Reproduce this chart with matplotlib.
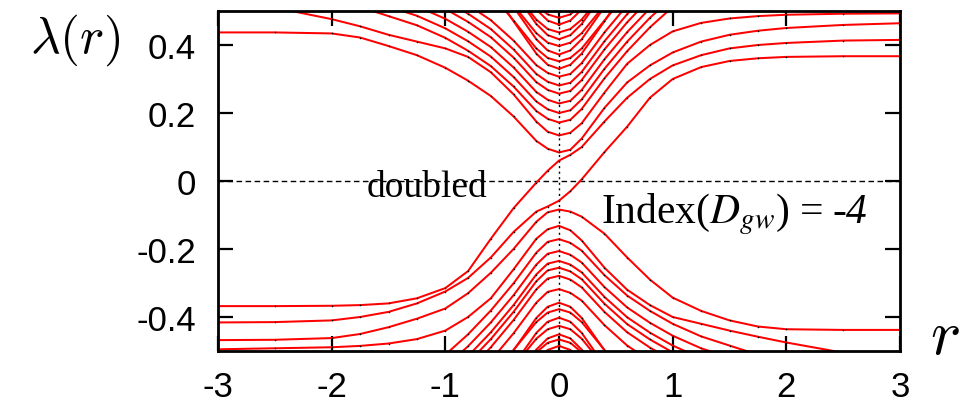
import matplotlib
matplotlib.use("Agg")
import matplotlib.pyplot as plt

# ---------------- data ----------------
r_grid = [-3, -2.5, -2, -1.75, -1.5, -1.25, -1, -0.8, -0.6, -0.4, -0.2, -0.1, 0,
          0.1, 0.2, 0.4, 0.6, 0.8, 1, 1.25, 1.5, 1.75, 2, 2.5, 3]

# the two (doubled) crossing eigenvalue lines
line_a = [-0.368, -0.368, -0.367, -0.365, -0.36, -0.345, -0.315, -0.265, -0.17, -0.08, -0.005, 0.03, 0.06,
          0.077, 0.1, 0.175, 0.245, 0.3, 0.34, 0.37, 0.39, 0.4, 0.406, 0.413, 0.415]
line_b = [-0.416, -0.415, -0.41, -0.4, -0.385, -0.36, -0.325, -0.285, -0.225, -0.15, -0.09, -0.075, -0.058,
          -0.03, 0.005, 0.085, 0.16, 0.245, 0.3, 0.335, 0.353, 0.361, 0.365, 0.367, 0.367]

# upper band
u1 = [0.437, 0.437, 0.434, 0.422, 0.397, 0.37, 0.333, 0.295, 0.25, 0.19, 0.118, 0.095, 0.084,
      0.092, 0.125, 0.215, 0.29, 0.34, 0.378, 0.41, 0.43, 0.442, 0.45, 0.459, 0.464]
u2 = [0.55, 0.51, 0.476, 0.455, 0.43, 0.41, 0.39, 0.365, 0.32, 0.255, 0.175, 0.145, 0.134,
      0.142, 0.17, 0.26, 0.345, 0.4, 0.44, 0.465, 0.478, 0.485, 0.489, 0.492, 0.493]
u3 = [0.572, 0.552, 0.532, 0.512, 0.485, 0.458, 0.421, 0.383, 0.338, 0.278, 0.206, 0.183, 0.172,
      0.18, 0.212, 0.302, 0.382, 0.452, 0.512, 0.572, 0.622, 0.672, 0.722, 0.772, 0.822]
u4 = [0.6, 0.58, 0.56, 0.54, 0.513, 0.486, 0.449, 0.411, 0.366, 0.306, 0.234, 0.211, 0.2,
      0.208, 0.24, 0.33, 0.41, 0.48, 0.54, 0.6, 0.65, 0.7, 0.75, 0.8, 0.85]
u5 = [0.628, 0.608, 0.588, 0.568, 0.541, 0.514, 0.477, 0.439, 0.394, 0.334, 0.262, 0.239, 0.228,
      0.236, 0.268, 0.358, 0.438, 0.508, 0.568, 0.628, 0.678, 0.728, 0.778, 0.828, 0.878]
u6 = [0.657, 0.637, 0.617, 0.597, 0.57, 0.543, 0.506, 0.468, 0.423, 0.363, 0.291, 0.268, 0.257,
      0.265, 0.297, 0.387, 0.467, 0.537, 0.597, 0.657, 0.707, 0.757, 0.807, 0.857, 0.907]
u7 = [0.681, 0.661, 0.641, 0.621, 0.594, 0.567, 0.53, 0.492, 0.447, 0.387, 0.315, 0.292, 0.281,
      0.289, 0.321, 0.411, 0.491, 0.561, 0.621, 0.681, 0.731, 0.781, 0.831, 0.881, 0.931]
u8 = [0.707, 0.687, 0.667, 0.647, 0.62, 0.593, 0.556, 0.518, 0.473, 0.413, 0.341, 0.318, 0.307,
      0.315, 0.347, 0.437, 0.517, 0.587, 0.647, 0.707, 0.757, 0.807, 0.857, 0.907, 0.957]
u9 = [1.31, 1.18, 1.05, 0.98, 0.91, 0.83, 0.74, 0.66, 0.57, 0.47, 0.375, 0.342, 0.33,
      0.342, 0.375, 0.47, 0.57, 0.66, 0.74, 0.83, 0.91, 0.98, 1.05, 1.18, 1.31]
u10 = [1.182, 1.072, 0.962, 0.902, 0.842, 0.777, 0.702, 0.632, 0.552, 0.472, 0.39, 0.362, 0.352,
       0.362, 0.39, 0.472, 0.552, 0.632, 0.702, 0.777, 0.842, 0.902, 0.962, 1.072, 1.182]
u11 = [1.352, 1.222, 1.092, 1.022, 0.952, 0.872, 0.782, 0.702, 0.612, 0.512, 0.417, 0.384, 0.372,
       0.384, 0.417, 0.512, 0.612, 0.702, 0.782, 0.872, 0.952, 1.022, 1.092, 1.222, 1.352]
u12 = [1.227, 1.117, 1.007, 0.947, 0.887, 0.822, 0.747, 0.677, 0.597, 0.517, 0.435, 0.407, 0.397,
       0.407, 0.435, 0.517, 0.597, 0.677, 0.747, 0.822, 0.887, 0.947, 1.007, 1.117, 1.227]
u13 = [1.397, 1.267, 1.137, 1.067, 0.997, 0.917, 0.827, 0.747, 0.657, 0.557, 0.462, 0.429, 0.417,
       0.429, 0.462, 0.557, 0.657, 0.747, 0.827, 0.917, 0.997, 1.067, 1.137, 1.267, 1.397]
u14 = [1.267, 1.157, 1.047, 0.987, 0.927, 0.862, 0.787, 0.717, 0.637, 0.557, 0.475, 0.447, 0.437,
       0.447, 0.475, 0.557, 0.637, 0.717, 0.787, 0.862, 0.927, 0.987, 1.047, 1.157, 1.267]
u15 = [1.44, 1.31, 1.18, 1.11, 1.04, 0.96, 0.87, 0.79, 0.7, 0.6, 0.505, 0.472, 0.46,
       0.472, 0.505, 0.6, 0.7, 0.79, 0.87, 0.96, 1.04, 1.11, 1.18, 1.31, 1.44]
u16 = [1.31, 1.2, 1.09, 1.03, 0.97, 0.905, 0.83, 0.76, 0.68, 0.6, 0.518, 0.49, 0.48,
       0.49, 0.518, 0.6, 0.68, 0.76, 0.83, 0.905, 0.97, 1.03, 1.09, 1.2, 1.31]

# lower band
l1 = [-0.468, -0.467, -0.462, -0.45, -0.43, -0.405, -0.375, -0.33, -0.27, -0.2, -0.12, -0.092, -0.084,
      -0.09, -0.105, -0.155, -0.225, -0.29, -0.343, -0.382, -0.41, -0.428, -0.436, -0.438, -0.438]
l2 = [-0.495, -0.492, -0.489, -0.485, -0.478, -0.465, -0.44, -0.4, -0.345, -0.26, -0.17, -0.142, -0.132,
      -0.145, -0.175, -0.255, -0.32, -0.365, -0.4, -0.42, -0.44, -0.458, -0.475, -0.505, -0.54]
l3 = [-0.821, -0.771, -0.721, -0.671, -0.621, -0.571, -0.511, -0.451, -0.381, -0.301, -0.211, -0.179, -0.171,
      -0.182, -0.205, -0.277, -0.337, -0.382, -0.42, -0.457, -0.484, -0.511, -0.531, -0.551, -0.571]
l4 = [-0.856, -0.806, -0.756, -0.706, -0.656, -0.606, -0.546, -0.486, -0.416, -0.336, -0.246, -0.214, -0.206,
      -0.217, -0.24, -0.312, -0.372, -0.417, -0.455, -0.492, -0.519, -0.546, -0.566, -0.586, -0.606]
l5 = [-0.885, -0.835, -0.785, -0.735, -0.685, -0.635, -0.575, -0.515, -0.445, -0.365, -0.275, -0.243, -0.235,
      -0.246, -0.269, -0.341, -0.401, -0.446, -0.484, -0.521, -0.548, -0.575, -0.595, -0.615, -0.635]
l6 = [-0.905, -0.855, -0.805, -0.755, -0.705, -0.655, -0.595, -0.535, -0.465, -0.385, -0.295, -0.263, -0.255,
      -0.266, -0.289, -0.361, -0.421, -0.466, -0.504, -0.541, -0.568, -0.595, -0.615, -0.635, -0.655]
l7 = [-0.929, -0.879, -0.829, -0.779, -0.729, -0.679, -0.619, -0.559, -0.489, -0.409, -0.319, -0.287, -0.279,
      -0.29, -0.313, -0.385, -0.445, -0.49, -0.528, -0.565, -0.592, -0.619, -0.639, -0.659, -0.679]
l8 = [-0.968, -0.918, -0.868, -0.818, -0.768, -0.718, -0.658, -0.598, -0.528, -0.448, -0.358, -0.326, -0.318,
      -0.329, -0.352, -0.424, -0.484, -0.529, -0.567, -0.604, -0.631, -0.658, -0.678, -0.698, -0.718]
l9 = [-1.338, -1.208, -1.078, -1.008, -0.938, -0.858, -0.768, -0.688, -0.598, -0.498, -0.403, -0.37, -0.358,
      -0.37, -0.403, -0.498, -0.598, -0.688, -0.768, -0.858, -0.938, -1.008, -1.078, -1.208, -1.338]
l10 = [-1.207, -1.097, -0.987, -0.927, -0.867, -0.802, -0.727, -0.657, -0.577, -0.497, -0.415, -0.387, -0.377,
       -0.387, -0.415, -0.497, -0.577, -0.657, -0.727, -0.802, -0.867, -0.927, -0.987, -1.097, -1.207]
l11 = [-1.382, -1.252, -1.122, -1.052, -0.982, -0.902, -0.812, -0.732, -0.642, -0.542, -0.447, -0.414, -0.402,
       -0.414, -0.447, -0.542, -0.642, -0.732, -0.812, -0.902, -0.982, -1.052, -1.122, -1.252, -1.382]
l12 = [-1.256, -1.146, -1.036, -0.976, -0.916, -0.851, -0.776, -0.706, -0.626, -0.546, -0.464, -0.436, -0.426,
       -0.436, -0.464, -0.546, -0.626, -0.706, -0.776, -0.851, -0.916, -0.976, -1.036, -1.146, -1.256]
l13 = [-1.431, -1.301, -1.171, -1.101, -1.031, -0.951, -0.861, -0.781, -0.691, -0.591, -0.496, -0.463, -0.451,
       -0.463, -0.496, -0.591, -0.691, -0.781, -0.861, -0.951, -1.031, -1.101, -1.171, -1.301, -1.431]
l14 = [-1.296, -1.186, -1.076, -1.016, -0.956, -0.891, -0.816, -0.746, -0.666, -0.586, -0.504, -0.476, -0.466,
       -0.476, -0.504, -0.586, -0.666, -0.746, -0.816, -0.891, -0.956, -1.016, -1.076, -1.186, -1.296]
l15 = [-1.465, -1.335, -1.205, -1.135, -1.065, -0.985, -0.895, -0.815, -0.725, -0.625, -0.53, -0.497, -0.485,
       -0.497, -0.53, -0.625, -0.725, -0.815, -0.895, -0.985, -1.065, -1.135, -1.205, -1.335, -1.465]

x_ticks = [-3, -2, -1, 0, 1, 2, 3]
x_tick_labels = ["-3", "-2", "-1", "0", "1", "2", "3"]
y_ticks = [-0.4, -0.2, 0, 0.2, 0.4]
y_tick_labels = ["-0.4", "-0.2", "0", "0.2", "0.4"]

curves = [u1, u2, u3, u4, u5, u6, u7, u8, u9, u10, u11, u12, u13, u14, u15, u16,
          l1, l2, l3, l4, l5, l6, l7, l8, l9, l10, l11, l12, l13, l14, l15,
          line_a, line_b]

# ---------------- figure ----------------
fig = plt.figure(figsize=(9.74, 4.06), dpi=100)
ax = fig.add_axes([218 / 974, 1 - 352 / 406, (900 - 218) / 974, (352 - 12) / 406])

ax.axhline(0, color="black", lw=1.0, ls=(0, (4, 2.5)), zorder=1)
ax.axvline(0, color="black", lw=1.0, ls=(0, (1.5, 2.5)), zorder=1)

for c in curves:
    ax.plot(r_grid, c, color="#ff0000", lw=1.45, marker=".", ms=2.2,
            mfc="black", mec="black", mew=0, zorder=2)

ax.set_xlim(-3, 3)
ax.set_ylim(-0.5, 0.5)
ax.set_xticks(x_ticks)
ax.set_xticklabels(x_tick_labels)
ax.set_yticks(y_ticks)
ax.set_yticklabels(y_tick_labels)
ax.tick_params(direction="in", length=11, width=1.6, top=True, right=True,
               labelsize=25, pad=14)
ax.tick_params(axis="y", pad=16)
for lab in ax.get_xticklabels() + ax.get_yticklabels():
    lab.set_fontfamily("Liberation Sans")
for sp in ax.spines.values():
    sp.set_linewidth(2.0)

ax.text(-1.69, -0.045, "doubled", fontfamily="Liberation Serif", fontsize=27,
        ha="left", va="baseline", zorder=3)

t1 = ax.text(0.37, -0.121, r"Index($D_{gw}$) =", fontfamily="Liberation Serif",
             fontsize=30, ha="left", va="baseline", math_fontfamily="stix", zorder=3)
fig.canvas.draw()
bb = t1.get_window_extent(renderer=fig.canvas.get_renderer())
inv = ax.transData.inverted()
x_end = inv.transform((bb.x1 + 9, bb.y0))[0]
ax.text(x_end, -0.121, "-4", fontfamily="Liberation Serif", fontstyle="italic",
        fontsize=30, ha="left", va="baseline", zorder=3)

fig.text(75 / 974, 1 - 40 / 406, r"$\lambda(r)$", fontsize=37, ha="center", va="center",
         math_fontfamily="cm")
fig.text(945 / 974, 1 - 336 / 406, r"$r$", fontsize=46, ha="center", va="center",
         math_fontfamily="cm")

fig.savefig("out.png", dpi=100)
